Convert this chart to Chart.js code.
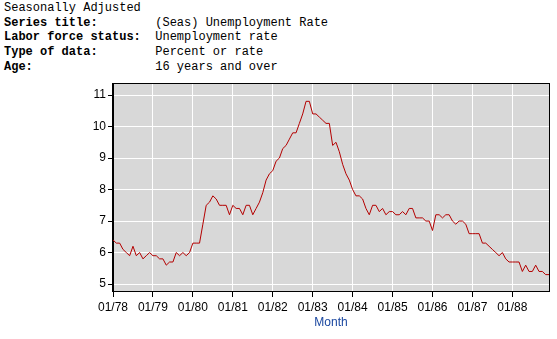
<!DOCTYPE html>
<html>
<head>
<meta charset="utf-8">
<script src="https://cdn.jsdelivr.net/npm/chart.js@4"></script>
<style>
  html, body { margin: 0; padding: 0; background: #fff; }
  #wrap { position: relative; width: 557px; height: 339px; }
  #info {
    position: absolute; left: 4px; top: 1px; margin: 0;
    font-family: "Liberation Mono", "Courier New", monospace;
    font-size: 12px; line-height: 14.7px; color: #000;
  }
  #info b { font-weight: bold; }
  canvas { position: absolute; left: 0; top: 0; }
</style>
</head>
<body>
<div id="wrap">
<pre id="info">Seasonally Adjusted
<b>Series title:</b>        (Seas) Unemployment Rate
<b>Labor force status:</b>  Unemployment rate
<b>Type of data:</b>        Percent or rate
<b>Age:</b>                 16 years and over</pre>
<canvas id="chart" width="557" height="339"></canvas>
</div>
<script>
// Unemployment rate, monthly, 01/1978 - 12/1988
const years = [78, 79, 80, 81, 82, 83, 84, 85, 86, 87, 88];
const tickLabels = ["01/78", "01/79", "01/80", "01/81", "01/82", "01/83", "01/84", "01/85", "01/86", "01/87", "01/88"];
const yTicks = [5, 6, 7, 8, 9, 10, 11];
const rates = [
  6.4, 6.3, 6.3, 6.1, 6.0, 5.9, 6.2, 5.9, 6.0, 5.8, 5.9, 6.0,
  5.9, 5.9, 5.8, 5.8, 5.6, 5.7, 5.7, 6.0, 5.9, 6.0, 5.9, 6.0,
  6.3, 6.3, 6.3, 6.9, 7.5, 7.6, 7.8, 7.7, 7.5, 7.5, 7.5, 7.2,
  7.5, 7.4, 7.4, 7.2, 7.5, 7.5, 7.2, 7.4, 7.6, 7.9, 8.3, 8.5,
  8.6, 8.9, 9.0, 9.3, 9.4, 9.6, 9.8, 9.8, 10.1, 10.4, 10.8, 10.8,
  10.4, 10.4, 10.3, 10.2, 10.1, 10.1, 9.4, 9.5, 9.2, 8.8, 8.5, 8.3,
  8.0, 7.8, 7.8, 7.7, 7.4, 7.2, 7.5, 7.5, 7.3, 7.4, 7.2, 7.3,
  7.3, 7.2, 7.2, 7.3, 7.2, 7.4, 7.4, 7.1, 7.1, 7.1, 7.0, 7.0,
  6.7, 7.2, 7.2, 7.1, 7.2, 7.2, 7.0, 6.9, 7.0, 7.0, 6.9, 6.6,
  6.6, 6.6, 6.6, 6.3, 6.3, 6.2, 6.1, 6.0, 5.9, 6.0, 5.8, 5.7,
  5.7, 5.7, 5.7, 5.4, 5.6, 5.4, 5.4, 5.6, 5.4, 5.4, 5.3, 5.3
];

const points = rates.map((v, i) => ({ x: i, y: v }));

// gray plot background and black frame
const plotFrame = {
  id: "plotFrame",
  beforeDraw(chart) {
    const { ctx, chartArea: a } = chart;
    ctx.save();
    ctx.fillStyle = "#d8d8d8";
    ctx.fillRect(a.left, a.top, a.right - a.left, a.bottom - a.top);
    ctx.restore();
  },
  afterDraw(chart) {
    const { ctx, chartArea: a } = chart;
    ctx.save();
    ctx.strokeStyle = "#000";
    ctx.lineWidth = 1;
    ctx.strokeRect(a.left - 0.5, a.top - 0.5, a.right - a.left + 1, a.bottom - a.top + 1);
    ctx.restore();
  }
};

new Chart(document.getElementById("chart"), {
  type: "line",
  data: {
    datasets: [{
      data: points,
      borderColor: "#b40000",
      borderWidth: 1,
      pointRadius: 0,
      tension: 0,
      fill: false
    }]
  },
  options: {
    responsive: false,
    animation: false,
    layout: { padding: { top: 84, right: 8, left: 0, bottom: 0 } },
    plugins: { legend: { display: false }, tooltip: { enabled: false } },
    scales: {
      x: {
        type: "linear",
        min: 0,
        max: 131,
        afterBuildTicks: (s) => { s.ticks = years.map((_, i) => ({ value: i * 12 })); },
        afterFit: (s) => { s.height = 48; },
        grid: { color: "#fff", lineWidth: 1, tickColor: "#000", tickLength: 6 },
        border: { color: "#000" },
        ticks: {
          autoSkip: false,
          maxRotation: 0,
          padding: 3,
          color: "#000",
          font: { family: "Liberation Sans, Arial", size: 12 },
          callback: (v) => tickLabels[v / 12]
        },
        title: {
          display: true,
          text: "Month",
          color: "#1a47a0",
          font: { family: "Liberation Sans, Arial", size: 12 },
          padding: { top: 0, bottom: 9 }
        }
      },
      y: {
        min: 4.78,
        max: 11.35,
        afterBuildTicks: (s) => { s.ticks = yTicks.map((v) => ({ value: v })); },
        afterFit: (s) => { s.width = 113; },
        grid: { color: "#fff", lineWidth: 1, tickColor: "#000", tickLength: 5 },
        border: { color: "#000" },
        ticks: {
          padding: 2,
          color: "#000",
          font: { family: "Liberation Sans, Arial", size: 12 }
        }
      }
    }
  },
  plugins: [plotFrame]
});
</script>
</body>
</html>
